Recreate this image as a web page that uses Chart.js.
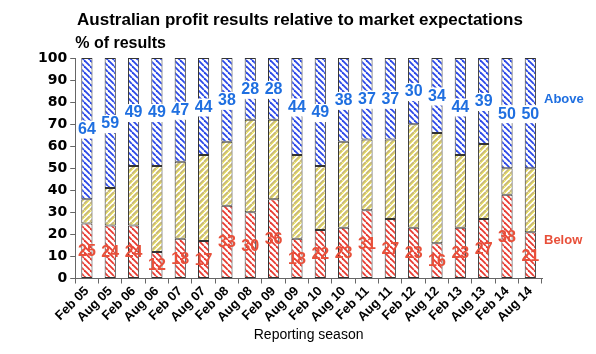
<!DOCTYPE html>
<html>
<head>
<meta charset="utf-8">
<script src="https://cdn.jsdelivr.net/npm/chart.js@4"></script>
<style>
  body { margin: 0; background: #fff; }
</style>
</head>
<body>
<canvas id="chart" width="596" height="354"></canvas>
<script>
// data
const seasons = ['Feb 05', 'Aug 05', 'Feb 06', 'Aug 06', 'Feb 07', 'Aug 07', 'Feb 08', 'Aug 08', 'Feb 09', 'Aug 09',
    'Feb 10', 'Aug 10', 'Feb 11', 'Aug 11', 'Feb 12', 'Aug 12', 'Feb 13', 'Aug 13', 'Feb 14', 'Aug 14'];
const below = [25, 24, 24, 12, 18, 17, 33, 30, 36, 18, 22, 23, 31, 27, 23, 16, 23, 27, 38, 21];
const inLine = [11, 17, 27, 39, 35, 39, 29, 42, 36, 38, 29, 39, 32, 36, 47, 50, 33, 34, 12, 29];
const above = [64, 59, 49, 49, 47, 44, 38, 28, 28, 44, 49, 38, 37, 37, 30, 34, 44, 39, 50, 50];

const FONT = "'Liberation Sans', Arial, sans-serif";
const WIDE = "'DejaVu Sans', sans-serif";
const BLUE = '#1f6fe0';
const RED = '#e8503a';

// hatch patterns
function hatch(bg, lines, forward) {
    const s = 6;
    const c = document.createElement('canvas');
    c.width = s; c.height = s;
    const g = c.getContext('2d');
    g.fillStyle = bg;
    g.fillRect(0, 0, s, s);
    for (let ln of lines) {
        g.strokeStyle = ln.color;
        g.lineWidth = ln.width;
        for (let k = -1; k <= 1; k++) {
            g.beginPath();
            if (forward) {
                g.moveTo(k * s + ln.off, s);
                g.lineTo(k * s + ln.off + s, 0);
            } else {
                g.moveTo(k * s + ln.off, 0);
                g.lineTo(k * s + ln.off + s, s);
            }
            g.stroke();
        }
    }
    return document.getElementById('chart').getContext('2d').createPattern(c, 'repeat');
}

const bluePat = hatch('#ffffff', [{color: '#2a48e8', width: 1.8, off: 0}], false);
const redPat = hatch('#ffffff', [{color: '#e83a30', width: 1.8, off: 0}], false);
const yellowPat = hatch('#ffffff', [{color: '#c8b878', width: 2, off: 0}, {color: '#f0e83a', width: 1, off: 1.8}], true);

// text bits drawn around the plot
const extras = {
    id: 'extras',
    afterDatasetsDraw(chart) {
        const ctx = chart.ctx;
        const area = chart.chartArea;
        const y = chart.scales.y;
        ctx.save();
        ctx.font = 'bold 16px ' + FONT;
        ctx.textAlign = 'center';
        ctx.textBaseline = 'middle';
        for (let d of [0, 2]) {
            const meta = chart.getDatasetMeta(d);
            const vals = chart.data.datasets[d].data;
            meta.data.forEach((bar, i) => {
                const cy = (bar.y + bar.base) / 2 + 1;
                const txt = String(vals[i]);
                const w = ctx.measureText(txt).width;
                if (d == 2) {
                    ctx.fillStyle = '#ffffff';
                    ctx.fillRect(bar.x - w / 2 - 1, cy - 9, w + 2, 18);
                }
                ctx.fillStyle = d == 2 ? BLUE : RED;
                ctx.fillText(txt, bar.x, cy);
            });
        }
        ctx.font = 'bold 13px ' + FONT;
        ctx.textAlign = 'left';
        ctx.fillStyle = BLUE;
        ctx.fillText('Above', area.right + 2, y.getPixelForValue(81));
        ctx.fillStyle = RED;
        ctx.fillText('Below', area.right + 2, y.getPixelForValue(17.5));
        ctx.fillStyle = '#000';
        ctx.font = 'bold 16px ' + FONT;
        ctx.textBaseline = 'alphabetic';
        ctx.fillText('% of results', area.left, area.top - 10);
        ctx.font = 'bold 17px ' + FONT;
        ctx.textAlign = 'center';
        ctx.fillText('Australian profit results relative to market expectations', 300, 25);
        ctx.restore();
    }
};

const common = {
    borderColor: '#333333',
    borderWidth: 1,
    borderSkipped: false,
    barPercentage: 0.48,
    categoryPercentage: 1.0,
};

new Chart(document.getElementById('chart'), {
    type: 'bar',
    data: {
        labels: seasons,
        datasets: [
            Object.assign({label: 'Below', data: below, backgroundColor: redPat}, common),
            Object.assign({label: 'In line', data: inLine, backgroundColor: yellowPat}, common),
            Object.assign({label: 'Above', data: above, backgroundColor: bluePat}, common),
        ]
    },
    options: {
        responsive: false,
        animation: false,
        devicePixelRatio: 1,
        layout: { padding: { left: 35, right: 54, top: 58, bottom: 6 } },
        plugins: {
            legend: { display: false },
            tooltip: { enabled: false },
            title: { display: false },
        },
        scales: {
            x: {
                stacked: true,
                grid: { display: true, drawOnChartArea: false, offset: true, color: '#666', tickLength: 5 },
                border: { color: '#666' },
                ticks: {
                    color: '#000',
                    maxRotation: 45,
                    minRotation: 45,
                    autoSkip: false,
                    padding: 0,
                    font: { family: FONT, size: 13, weight: 'bold' },
                },
                title: {
                    display: true,
                    text: 'Reporting season',
                    color: '#000',
                    padding: { top: 2 },
                    font: { family: FONT, size: 14 },
                },
            },
            y: {
                stacked: true,
                min: 0,
                max: 100,
                grid: { display: true, drawOnChartArea: false, color: '#666', tickLength: 5 },
                border: { color: '#666' },
                ticks: {
                    stepSize: 10,
                    color: '#000',
                    padding: 3,
                    font: { family: WIDE, size: 14, weight: 'bold' },
                },
            },
        },
    },
    plugins: [extras],
});
</script>
</body>
</html>
